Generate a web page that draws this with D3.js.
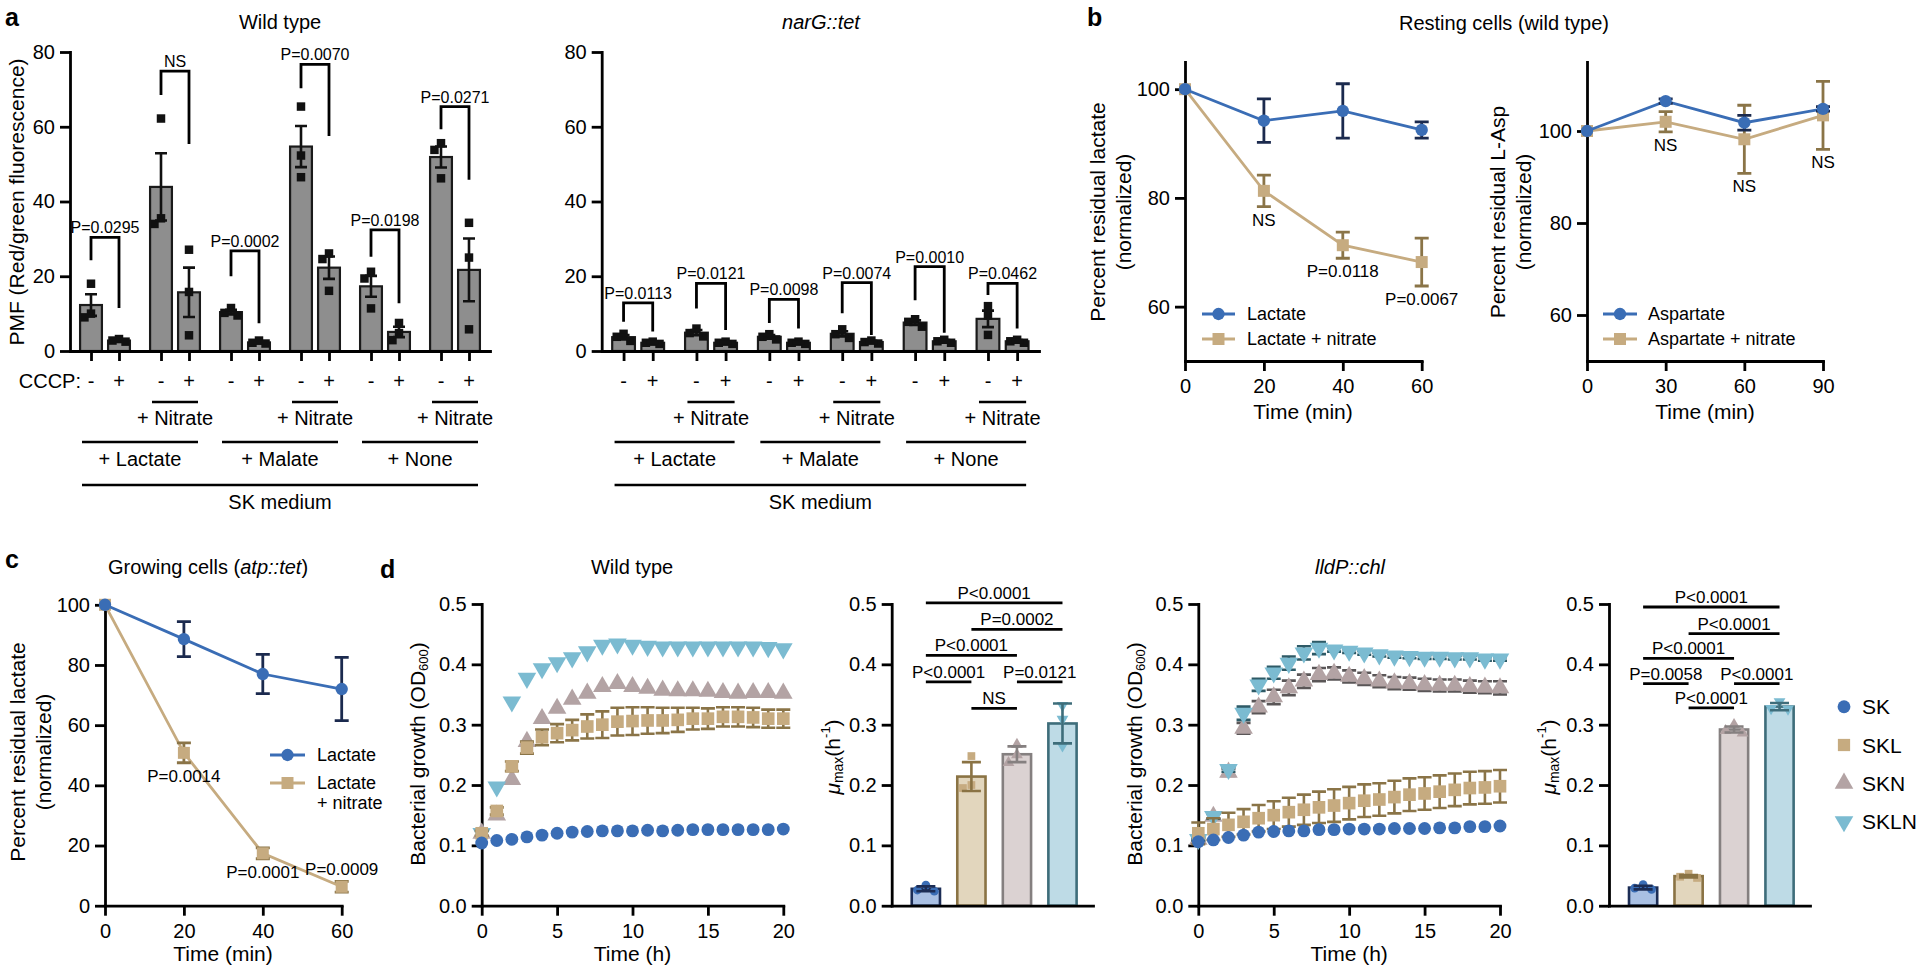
<!DOCTYPE html>
<html><head><meta charset="utf-8">
<script src="https://cdn.jsdelivr.net/npm/d3@7"></script>
<style>
body{margin:0;background:#fff;}
svg{display:block;}
</style></head><body>
<svg id="fig" width="1920" height="973"></svg>
<script>
// ================= DATA =================
// Panel a
const aCCCP = ["-","+","-","+","-","+","-","+","-","+","-","+"];
const aSubstrates = ["+ Lactate","+ Malate","+ None"];
const aNitrate = "+ Nitrate";
const aMedium = "SK medium";
const aTicks = [0,20,40,60,80];

const wtMeans = [12.3, 2.8, 43.9, 15.7, 10.4, 2.3, 54.7, 22.3, 17.3, 5.1, 51.9, 21.7];
const wtErrs  = [2.9, 0.3, 9.0, 6.6, 0.6, 0.3, 5.5, 3.0, 2.8, 1.4, 2.8, 8.4];
const wtPoints = [[18.0,10.0,9.0],[3.2,2.8,2.5],[62.2,35.5,34.0],[27.1,15.8,4.2],[11.5,10.2,9.5],[2.8,2.2,2.0],
                  [65.4,52.3,46.5],[26.1,24.6,16.1],[21.2,19.4,11.4],[7.5,4.8,2.9],[55.6,53.8,46.2],[34.3,25.0,5.8]];
const wtPLabels = ["P=0.0295","NS","P=0.0002","P=0.0070","P=0.0198","P=0.0271"];
const wtBrTop   = [30.4, 74.9, 26.8, 76.7, 32.4, 65.4];
const wtBrLeft  = [24.3, 68.5, 20.0, 70.3, 25.2, 59.3];
const wtBrRight = [11.5, 55.4, 7.4, 57.5, 12.8, 45.8];

const narMeans = [3.7, 2.2, 4.9, 2.2, 3.8, 2.2, 4.6, 2.4, 7.6, 2.6, 8.6, 2.6];
const narErrs  = [0.6, 0.2, 0.7, 0.2, 0.5, 0.2, 0.7, 0.3, 0.6, 0.3, 2.2, 0.3];
const narPoints = [[4.6,3.8,2.7],[2.5,2.2,1.9],[6.0,4.8,3.9],[2.5,2.2,1.9],[4.5,3.8,3.1],[2.5,2.2,1.9],
                   [5.8,4.5,3.5],[2.8,2.4,2.0],[8.5,7.8,6.5],[3.0,2.6,2.2],[12.0,9.5,4.3],[3.0,2.6,2.2]];
const narPLabels = ["P=0.0113","P=0.0121","P=0.0098","P=0.0074","P=0.0010","P=0.0462"];
const narBrTop   = [12.9, 18.1, 13.8, 18.3, 22.6, 18.1];
const narBrLeft  = [7.8, 11.4, 7.5, 10.1, 13.6, 15.0];
const narBrRight = [5.2, 5.6, 6.0, 4.3, 4.9, 6.0];

// Panel b
const bLacTime = [0,20,40,60];
const bLactate = [100, 94.2, 96.0, 92.5];
const bLactateErr = [0, 4.0, 5.0, 1.5];
const bLactateNitrate = [100, 81.3, 71.3, 68.2];
const bLactateNitrateErr = [0, 2.9, 2.4, 4.4];
const bLacP = ["", "NS", "P=0.0118", "P=0.0067"];
const bAspTime = [0,30,60,90];
const bAsp = [100, 106.5, 101.8, 104.8];
const bAspErr = [0, 0.5, 1.6, 0.5];
const bAspNitrate = [100, 102.0, 98.2, 103.4];
const bAspNitrateErr = [0, 2.2, 7.4, 7.4];
const bAspP = ["", "NS", "NS", "NS"];
const bYTicks = [60,80,100];

// Panel c
const cTime = [0,20,40,60];
const cLactate = [100, 88.6, 77.0, 72.0];
const cLactateErr = [0, 5.8, 6.5, 10.5];
const cLactateNitrate = [100, 50.8, 17.4, 6.3];
const cLactateNitrateErr = [0, 3.3, 1.8, 1.8];
const cP = ["", "P=0.0014", "P=0.0001", "P=0.0009"];
const cPPos = ["", "below", "below", "above"];
const cYTicks = [0,20,40,60,80,100];

// Panel d
const dGroups = ["SK","SKL","SKN","SKLN"];
const dHours = [0,1,2,3,4,5,6,7,8,9,10,11,12,13,14,15,16,17,18,19,20];
const dXTicks = [0,5,10,15,20];
const dYTicks = [0,0.1,0.2,0.3,0.4,0.5];

const d1SK   = [0.104,0.108,0.110,0.114,0.117,0.120,0.122,0.123,0.124,0.124,0.124,0.125,0.124,0.125,0.126,0.126,0.126,0.126,0.126,0.126,0.127];
const d1SKL  = [0.120,0.157,0.231,0.262,0.279,0.286,0.291,0.297,0.300,0.305,0.306,0.307,0.307,0.308,0.310,0.310,0.313,0.313,0.312,0.310,0.310];
const d1SKLErr = [0.004,0.006,0.008,0.010,0.013,0.015,0.017,0.020,0.022,0.023,0.023,0.022,0.021,0.020,0.018,0.017,0.016,0.016,0.016,0.015,0.015];
const d1SKN  = [0.120,0.150,0.209,0.272,0.310,0.327,0.342,0.352,0.363,0.368,0.363,0.360,0.357,0.356,0.356,0.355,0.353,0.352,0.353,0.353,0.352];
const d1SKLN = [0.120,0.197,0.338,0.377,0.393,0.403,0.411,0.421,0.432,0.434,0.432,0.430,0.429,0.429,0.429,0.429,0.429,0.429,0.429,0.428,0.426];

const d2Means = [0.028, 0.214, 0.251, 0.302];
const d2Errs  = [0.004, 0.024, 0.013, 0.033];
const d2Points = [[0.034,0.026,0.024],[0.248,0.200,0.195],[0.267,0.250,0.237],[0.332,0.309,0.265]];
const d2CompA = [0,2,1,0,1,0];
const d2CompB = [1,3,2,2,3,3];
const d2CompY = [0.371,0.371,0.327,0.415,0.458,0.502];
const d2CompLabel = ["P<0.0001","P=0.0121","NS","P<0.0001","P=0.0002","P<0.0001"];

const d3SK   = [0.106,0.109,0.113,0.117,0.122,0.123,0.124,0.124,0.126,0.126,0.127,0.127,0.127,0.128,0.128,0.128,0.129,0.129,0.131,0.131,0.132];
const d3SKL  = [0.120,0.127,0.134,0.139,0.145,0.150,0.155,0.159,0.163,0.166,0.170,0.174,0.176,0.180,0.184,0.186,0.189,0.192,0.195,0.196,0.198];
const d3SKLErr = [0.018,0.018,0.020,0.021,0.022,0.023,0.024,0.025,0.026,0.027,0.027,0.027,0.027,0.027,0.027,0.027,0.027,0.027,0.027,0.027,0.027];
const d3SKN  = [0.110,0.148,0.221,0.294,0.329,0.346,0.361,0.372,0.383,0.385,0.380,0.376,0.372,0.369,0.368,0.366,0.365,0.365,0.363,0.362,0.361];
const d3SKNErr = [0.003,0.005,0.006,0.009,0.010,0.012,0.012,0.011,0.011,0.010,0.010,0.010,0.010,0.010,0.010,0.010,0.010,0.010,0.010,0.010,0.011];
const d3SKLN = [0.110,0.148,0.226,0.319,0.366,0.386,0.402,0.419,0.427,0.424,0.422,0.419,0.416,0.414,0.413,0.412,0.412,0.411,0.411,0.409,0.409];
const d3SKLNErr = [0.002,0.004,0.004,0.011,0.010,0.010,0.011,0.011,0.010,0.003,0.003,0.003,0.003,0.003,0.003,0.003,0.003,0.003,0.003,0.003,0.003];

const d4Means = [0.030, 0.049, 0.292, 0.330];
const d4Errs  = [0.003, 0.002, 0.005, 0.006];
const d4Points = [[0.035,0.029,0.027],[0.053,0.048,0.046],[0.300,0.290,0.286],[0.338,0.327,0.326]];
const d4CompA = [1,0,2,0,1,0];
const d4CompB = [2,1,3,2,3,3];
const d4CompY = [0.328,0.368,0.368,0.410,0.451,0.495];
const d4CompLabel = ["P<0.0001","P=0.0058","P<0.0001","P<0.0001","P<0.0001","P<0.0001"];

// ================= STYLE =================
const FONT = '"Liberation Sans", Arial, Helvetica, sans-serif';
const C = {
  blue:"#3a6db5", blueErr:"#1b2a4e",
  tan:"#c6ab80", tanErr:"#8a7447",
  mauve:"#b3a3a4", mauveErr:"#5a5657",
  cyan:"#7bbbd1", cyanErr:"#2e5a66",
  grayBar:"#8e8e8e"
};
const dColor = [C.blue, C.tan, C.mauve, C.cyan];
const dErrColor = [C.blueErr, C.tanErr, C.mauveErr, C.cyanErr];
const dFill = ["#a9c0e3","#e2d6bd","#dbd2d2","#bedbe6"];
const dStroke = ["#1c2d55","#8a7344","#858080","#3e6d7a"];
const dShape = ["circle","square","tri","tridown"];

const svg = d3.select("#fig").attr("font-family", FONT);
svg.append("rect").attr("width",1920).attr("height",973).attr("fill","#fff");

// ================= HELPERS =================
function txt(x, y, s, size, anchor, opts) {
  opts = opts || {};
  const t = svg.append("text").attr("x",x).attr("y",y).attr("font-size",size)
    .attr("text-anchor",anchor || "middle").attr("font-family",FONT).attr("fill","#000").text(s);
  if (opts.italic) t.attr("font-style","italic");
  if (opts.bold) t.attr("font-weight","bold");
  return t;
}
function rotTxt(x, y, size) {
  return svg.append("text").attr("transform",`translate(${x},${y}) rotate(-90)`)
    .attr("text-anchor","middle").attr("dominant-baseline","central")
    .attr("font-size",size).attr("font-family",FONT).attr("fill","#000");
}
function styleAxis(g, size) {
  g.attr("font-family",FONT);
  g.select(".domain").attr("stroke","#000").attr("stroke-width",2.8).attr("stroke-linecap","square");
  g.selectAll(".tick line").attr("stroke","#000").attr("stroke-width",2.8);
  g.selectAll(".tick text").attr("fill","#000").attr("font-size",size).attr("font-family",FONT);
}
function yAxis(scale, x, ticks, fmt) {
  const g = svg.append("g").attr("transform",`translate(${x},0)`)
    .call(d3.axisLeft(scale).tickValues(ticks).tickFormat(fmt).tickSize(10).tickSizeOuter(0).tickPadding(5));
  styleAxis(g, 20); return g;
}
function xAxis(scale, y, ticks, fmt) {
  const g = svg.append("g").attr("transform",`translate(0,${y})`)
    .call(d3.axisBottom(scale).tickValues(ticks).tickFormat(fmt).tickSize(10).tickSizeOuter(0).tickPadding(8));
  styleAxis(g, 20); return g;
}
function errBar(x, yTop, yBot, cap, color, sw) {
  const p = `M${x},${yTop}V${yBot}M${x-cap/2},${yTop}H${x+cap/2}M${x-cap/2},${yBot}H${x+cap/2}`;
  svg.append("path").attr("d",p).attr("stroke",color).attr("stroke-width",sw||2.8).attr("fill","none");
}
function marker(x, y, shape, size, fill) {
  let type = d3.symbolCircle;
  if (shape === "square") type = d3.symbolSquare;
  if (shape === "tri" || shape === "tridown") type = d3.symbolTriangle;
  svg.append("path").attr("d", d3.symbol().type(type).size(size)())
    .attr("transform", `translate(${x},${y})` + (shape === "tridown" ? " rotate(180)" : ""))
    .attr("fill", fill);
}
function hline(x1, x2, y, sw, color) {
  svg.append("line").attr("x1",x1).attr("x2",x2).attr("y1",y).attr("y2",y)
    .attr("stroke",color||"#000").attr("stroke-width",sw||2.8);
}
function jitterOffsets(ys, w) {
  const offs = [];
  ys.forEach((v,i) => {
    let n = 0;
    for (let j = 0; j < i; j++) if (Math.abs(ys[j]-v) < 9) n++;
    offs.push([0,-1,1,-2,2][n] * w);
  });
  return offs;
}

// ================= PANEL LETTERS & TITLES =================
txt(5, 26, "a", 25, "start", {bold:true});
txt(1087, 26, "b", 25, "start", {bold:true});
txt(5, 568, "c", 25, "start", {bold:true});
txt(380, 578, "d", 25, "start", {bold:true});

txt(280, 29, "Wild type", 20);
txt(821, 29, "narG::tet", 20, "middle", {italic:true});
txt(1504, 30, "Resting cells (wild type)", 20);
{
  const t = txt(208, 574, "", 20);
  t.append("tspan").text("Growing cells (");
  t.append("tspan").attr("font-style","italic").text("atp::tet");
  t.append("tspan").text(")");
}
txt(632, 574, "Wild type", 20);
txt(1350, 574, "lldP::chl", 20, "middle", {italic:true});

// ================= PANEL a =================
function drawA(x0, x1, means, errs, points, brTop, brL, brR, pLabels, showCCCP) {
  const y = d3.scaleLinear().domain([0,80]).range([351,52]);
  const x = d3.scaleLinear().domain([-0.75,14.25]).range([x0,x1]);
  const slots = means.map((d,i) => Math.floor(i/2)*2.5 + i%2);
  const unit = x(1) - x(0);
  const bw = unit * 0.78;

  // bars
  svg.append("g").selectAll("rect").data(means).join("rect")
    .attr("x",(d,i) => x(slots[i]) - bw/2).attr("y", d => y(d))
    .attr("width", bw).attr("height", d => y(0) - y(d))
    .attr("fill", C.grayBar).attr("stroke","#1a1a1a").attr("stroke-width",2.2);
  // points
  points.forEach((pts,i) => {
    const offs = jitterOffsets(pts.map(v => y(v)), bw*0.3);
    pts.forEach((v,k) => marker(x(slots[i]) + offs[k], y(v), "square", 72, "#111"));
  });
  // error bars
  means.forEach((m,i) => errBar(x(slots[i]), y(m+errs[i]), y(m-errs[i]), 12, "#111", 2.6));

  // axes
  yAxis(y, x0, aTicks, d3.format("d"));
  xAxis(x, 351, slots, () => "");

  // brackets
  pLabels.forEach((lab,p) => {
    const xl = x(slots[2*p]), xr = x(slots[2*p+1]);
    svg.append("path")
      .attr("d", `M${xl},${y(brL[p])}V${y(brTop[p])}H${xr}V${y(brR[p])}`)
      .attr("fill","none").attr("stroke","#000").attr("stroke-width",2.8);
    txt((xl+xr)/2, y(brTop[p]) - 4, lab, 16);
  });

  // condition labels
  if (showCCCP) txt(x(slots[0]) - 10, 388, "CCCP:", 20, "end");
  aCCCP.forEach((s,i) => txt(x(slots[i]), 388, s, 20));
  [1,3,5].forEach(p => {
    const xa = x(slots[2*p]) - 9, xb = x(slots[2*p+1]) + 9;
    hline(xa, xb, 402, 2.6);
    txt((xa+xb)/2, 425, aNitrate, 20);
  });
  aSubstrates.forEach((s,g) => {
    const xa = x(slots[4*g]) - 9, xb = x(slots[4*g+3]) + 9;
    hline(xa, xb, 442, 2.6);
    txt((xa+xb)/2, 466, s, 20);
  });
  const xa = x(slots[0]) - 9, xb = x(slots[11]) + 9;
  hline(xa, xb, 485, 2.6);
  txt((xa+xb)/2, 509, aMedium, 20);
}
drawA(70, 490, wtMeans, wtErrs, wtPoints, wtBrTop, wtBrLeft, wtBrRight, wtPLabels, true);
drawA(601.7, 1039, narMeans, narErrs, narPoints, narBrTop, narBrLeft, narBrRight, narPLabels, false);
rotTxt(16, 202, 21).text("PMF (Red/green fluorescence)");

// ================= LINE CHART HELPERS =================
function lineSeries(x, y, xs, vals, errs, color, errColor, shape, size) {
  svg.append("path").datum(vals).attr("fill","none").attr("stroke",color).attr("stroke-width",2.8)
    .attr("d", d3.line().x((d,i) => x(xs[i])).y(d => y(d)));
  vals.forEach((v,i) => { if (errs[i] > 0) errBar(x(xs[i]), y(v+errs[i]), y(v-errs[i]), 14, errColor, 2.8); });
  vals.forEach((v,i) => marker(x(xs[i]), y(v), shape, size, color));
}
function legendRow(x1, x2, yy, shape, size, color, lines, tx, fs) {
  hline(x1, x2, yy, 2.8, color);
  marker((x1+x2)/2, yy, shape, size, color);
  lines.forEach((l,k) => txt(tx, yy + 0.35*fs + k*20, l, fs, "start"));
}
function pLabelsBelow(x, y, xs, vals, errs, labels, pos) {
  labels.forEach((l,i) => {
    if (!l) return;
    if (pos && pos[i] === "above") txt(x(xs[i]), y(vals[i]+errs[i]) - 6, l, 17);
    else txt(x(xs[i]), y(vals[i]-errs[i]) + 19, l, 17);
  });
}

// ================= PANEL b =================
{
  const x = d3.scaleLinear().domain([0,60]).range([1185,1421.7]);
  const y = d3.scaleLinear().domain([50,105]).range([361,62]);
  yAxis(y, 1185, bYTicks, d3.format("d"));
  xAxis(x, 361, bLacTime, d3.format("d"));
  lineSeries(x, y, bLacTime, bLactateNitrate, bLactateNitrateErr, C.tan, C.tanErr, "square", 144);
  lineSeries(x, y, bLacTime, bLactate, bLactateErr, C.blue, C.blueErr, "circle", 120);
  pLabelsBelow(x, y, bLacTime, bLactateNitrate, bLactateNitrateErr, bLacP);
  legendRow(1202, 1235, 314, "circle", 120, C.blue, ["Lactate"], 1247, 18);
  legendRow(1202, 1235, 339, "square", 144, C.tan, ["Lactate + nitrate"], 1247, 18);
  txt(1303, 419, "Time (min)", 21);
  rotTxt(1097, 212, 21).text("Percent residual lactate");
  rotTxt(1123, 212, 21).text("(normalized)");
}
{
  const x = d3.scaleLinear().domain([0,90]).range([1587,1823]);
  const y = d3.scaleLinear().domain([50,115]).range([361,62]);
  yAxis(y, 1587, bYTicks, d3.format("d"));
  xAxis(x, 361, bAspTime, d3.format("d"));
  lineSeries(x, y, bAspTime, bAspNitrate, bAspNitrateErr, C.tan, C.tanErr, "square", 144);
  lineSeries(x, y, bAspTime, bAsp, bAspErr, C.blue, C.blueErr, "circle", 120);
  pLabelsBelow(x, y, bAspTime, bAspNitrate, bAspNitrateErr, bAspP);
  legendRow(1603, 1637, 314, "circle", 120, C.blue, ["Aspartate"], 1648, 18);
  legendRow(1603, 1637, 339, "square", 144, C.tan, ["Aspartate + nitrate"], 1648, 18);
  txt(1705, 419, "Time (min)", 21);
  rotTxt(1497, 212, 21).text("Percent residual L-Asp");
  rotTxt(1523, 212, 21).text("(normalized)");
}

// ================= PANEL c =================
{
  const x = d3.scaleLinear().domain([0,60]).range([105,341.7]);
  const y = d3.scaleLinear().domain([0,100]).range([905.7,604.8]);
  yAxis(y, 105, cYTicks, d3.format("d"));
  xAxis(x, 905.7, cTime, d3.format("d"));
  lineSeries(x, y, cTime, cLactateNitrate, cLactateNitrateErr, C.tan, C.tanErr, "square", 144);
  lineSeries(x, y, cTime, cLactate, cLactateErr, C.blue, C.blueErr, "circle", 120);
  pLabelsBelow(x, y, cTime, cLactateNitrate, cLactateNitrateErr, cP, cPPos);
  legendRow(270, 305, 755, "circle", 120, C.blue, ["Lactate"], 317, 18);
  legendRow(270, 305, 783, "square", 144, C.tan, ["Lactate", "+ nitrate"], 317, 18);
  txt(223, 961, "Time (min)", 21);
  rotTxt(17, 752, 21).text("Percent residual lactate");
  rotTxt(43, 752, 21).text("(normalized)");
}

// ================= PANEL d =================
const dY = d3.scaleLinear().domain([0,0.5]).range([905.7,604]);
function growthSeries(x, vals, errs, shape, size, color, errColor) {
  if (errs) vals.forEach((v,i) => errBar(x(dHours[i]), dY(v+errs[i]), dY(v-errs[i]), 14, errColor, 2.6));
  vals.forEach((v,i) => marker(x(dHours[i]), dY(v), shape, size, color));
}
function odLabel(xc) {
  const t = rotTxt(xc, 754, 21);
  t.append("tspan").text("Bacterial growth (OD");
  t.append("tspan").attr("font-size",13).attr("dy",6).text("600");
  t.append("tspan").attr("dy",-6).text(")");
}
function muLabel(xc) {
  const t = rotTxt(xc, 757, 21);
  t.append("tspan").attr("font-style","italic").text("μ");
  t.append("tspan").attr("font-size",14).attr("dy",6).text("max");
  t.append("tspan").attr("dy",-6).text("(h");
  t.append("tspan").attr("font-size",13).attr("dy",-7).text("-1");
  t.append("tspan").attr("dy",7).text(")");
}
function growthPanel(x0, x1, series, errs) {
  const x = d3.scaleLinear().domain([0,20]).range([x0,x1]);
  yAxis(dY, x0, dYTicks, d3.format(".1f"));
  xAxis(x, 905.7, dXTicks, d3.format("d"));
  const order = [2,3,1,0];
  order.forEach(k => growthSeries(x, series[k], errs[k], dShape[k], k===0?130:(k===1?160:150), dColor[k], dErrColor[k]));
  txt((x0+x1)/2, 961, "Time (h)", 21);
}
function muPanel(x0, x1, means, errs, points, cA, cB, cY, cL) {
  const x = d3.scaleBand().domain(dGroups).range([x0,x1]).paddingInner(0.38).paddingOuter(0.4).align(0.55);
  const bw = x.bandwidth();
  const cx = i => x(dGroups[i]) + bw/2;
  svg.append("g").selectAll("rect").data(means).join("rect")
    .attr("x",(d,i) => x(dGroups[i])).attr("y", d => dY(d))
    .attr("width", bw).attr("height", d => dY(0) - dY(d))
    .attr("fill",(d,i) => dFill[i]).attr("stroke",(d,i) => dStroke[i]).attr("stroke-width",2.6);
  points.forEach((pts,i) => {
    const offs = jitterOffsets(pts.map(v => dY(v)), bw*0.3);
    pts.forEach((v,k) => marker(cx(i) + offs[k], dY(v), dShape[i], 60, dColor[i]));
  });
  means.forEach((m,i) => errBar(cx(i), dY(m+errs[i]), dY(m-errs[i]), 19, dStroke[i], 2.6));
  yAxis(dY, x0, dYTicks, d3.format(".1f"));
  xAxis(x, 905.7, [], () => "");
  cL.forEach((l,k) => {
    const xa = cx(cA[k]), xb = cx(cB[k]);
    hline(xa, xb, dY(cY[k]), 2.8);
    txt((xa+xb)/2, dY(cY[k]) - 4, l, 17);
  });
}

growthPanel(481.7, 783.3, [d1SK, d1SKL, d1SKN, d1SKLN], [null, d1SKLErr, null, null]);
odLabel(417);
muPanel(891.7, 1093, d2Means, d2Errs, d2Points, d2CompA, d2CompB, d2CompY, d2CompLabel);
muLabel(832);

growthPanel(1198.3, 1500, [d3SK, d3SKL, d3SKN, d3SKLN], [null, d3SKLErr, d3SKNErr, d3SKLNErr]);
odLabel(1134);
muPanel(1609, 1810, d4Means, d4Errs, d4Points, d4CompA, d4CompB, d4CompY, d4CompLabel);
muLabel(1548);

// legend d
dGroups.forEach((g,i) => {
  const yy = 706.7 + i*38.3;
  marker(1844, yy, dShape[i], i===0?130:150, dColor[i]);
  txt(1862, yy + 7.5, g, 21, "start");
});
</script>
</body></html>
